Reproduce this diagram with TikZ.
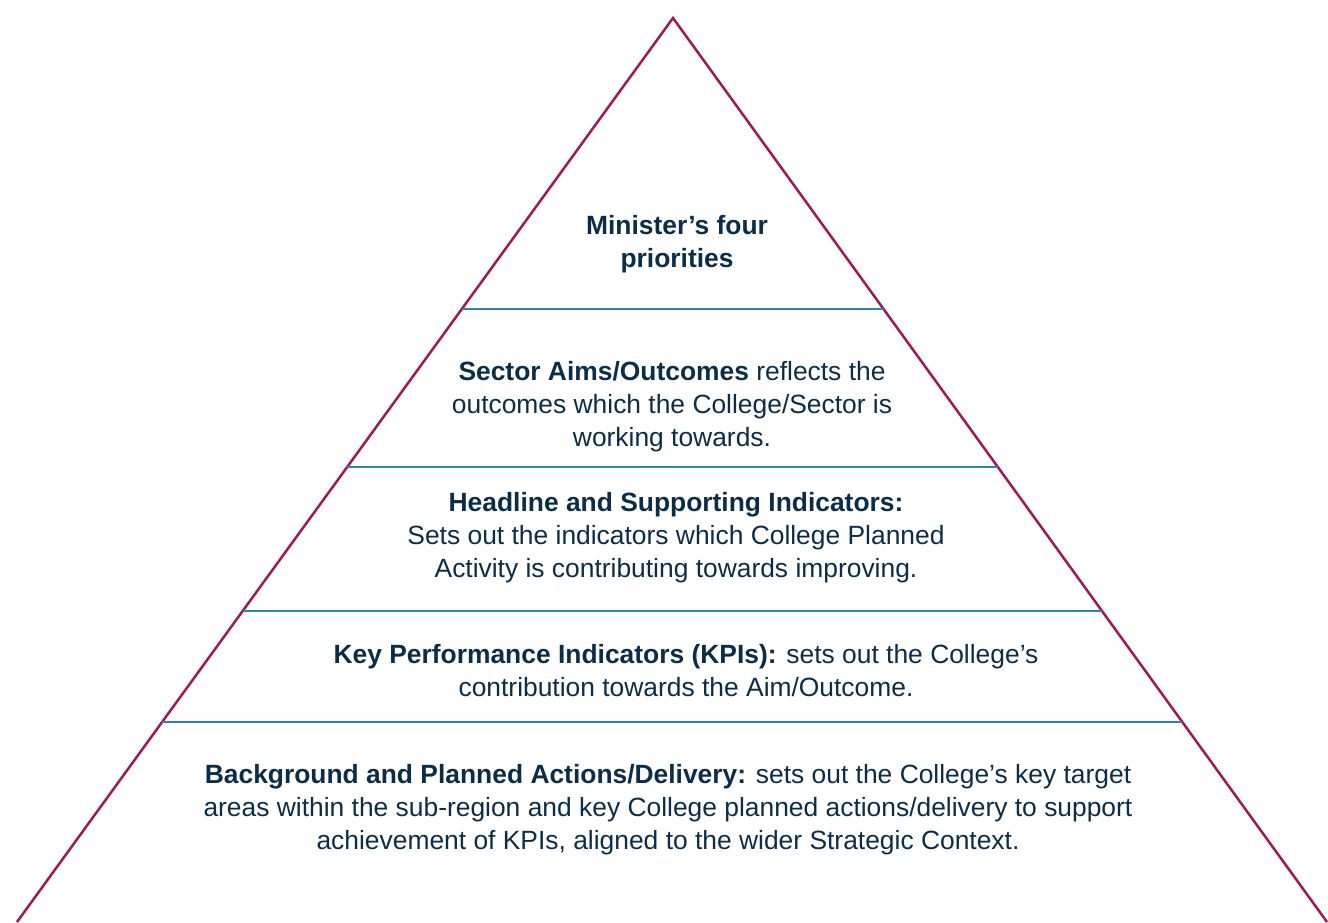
\documentclass[tikz,border=0pt]{standalone}
\usepackage{fontspec}
\setmainfont{Liberation Sans}
\usetikzlibrary{calc}
\definecolor{plum}{HTML}{9E1A57}
\definecolor{tierblue}{HTML}{2A86AE}
\definecolor{navy}{HTML}{0B2D47}

\begin{document}
\begin{tikzpicture}[
			x = 1pt, y = -1pt,
			tiertext/.style = {align=center, text=navy, inner sep=0pt, font=\fontsize{26.4}{33}\selectfont},
			sep/.style = {tierblue, line width=1.5pt}
			]
			\useasboundingbox (0,0) rectangle (1328,922);

			\coordinate (apex) at (673,18);
			\coordinate (foot l) at (17,922);
			\coordinate (foot r) at (1327,922);
			\draw[plum, line width=2.5pt] (foot l) -- (apex) -- (foot r);

			% separators between the tiers, cut at the two sides
			\foreach \y/\n in {309/1,467/2,611/3,722/4}{
				\coordinate (sepl\n) at ($(apex)!{(\y-18)/904}!(foot l)$);
				\coordinate (sepr\n) at ($(apex)!{(\y-18)/904}!(foot r)$);
				\draw[sep] (sepl\n) -- (sepr\n);
			}

			\node[tiertext] (minister) at (677,244) {\textbf{Minister’s four}\\\textbf{priorities}};
			\node[tiertext] (sector) at (672,407) {\textbf{Sector Aims/Outcomes} reflects the\\outcomes which the College/Sector is\\working towards.};
			\node[tiertext] (headline) at (676,538) {\textbf{Headline and Supporting Indicators:}\\Sets out the indicators which College Planned\\Activity is contributing towards improving.};
			\node[tiertext] (kpi) at (686,671) {\textbf{Key Performance Indicators (KPIs):} sets out the College’s\\contribution towards the Aim/Outcome.};
			\node[tiertext] (delivery) at (668,810) {\textbf{Background and Planned Actions/Delivery:} sets out the College’s key target\\areas within the sub-region and key College planned actions/delivery to support\\achievement of KPIs, aligned to the wider Strategic Context.};

		\end{tikzpicture}
\end{document}
